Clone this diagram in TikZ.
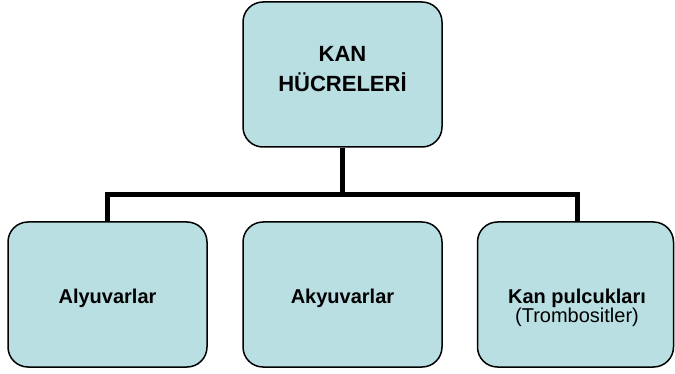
\documentclass[tikz,border=0pt]{standalone}
\usepackage{fontspec}
\setmainfont{Liberation Sans}
\usepackage{xcolor}
\definecolor{kutumavi}{RGB}{185,223,227}

\begin{document}
\begin{tikzpicture}[x=1pt,y=-1pt,
	kutu/.style={draw,fill=kutumavi,line width=1.5pt,rounded corners=20pt,
		minimum width=199pt,minimum height=145pt},
	ustyazi/.style={anchor=base,font=\fontsize{22}{26}\selectfont\bfseries},
	yazi/.style={anchor=base,font=\fontsize{20}{24}\selectfont\bfseries},
	altyazi/.style={anchor=base,font=\fontsize{20}{24}\selectfont},
	bag/.style={line width=5pt}]
	\useasboundingbox (0,0) rectangle (675,374);
	
	% kutular
	\node[kutu] (kan) at (342.5,74.5) {};
	\node[kutu] (alyuvar) at (107.5,294.5) {};
	\node[kutu] (akyuvar) at (342.5,294.5) {};
	\node[kutu,minimum width=196pt] (trombosit) at (575.5,294.5) {};
	
	% yazilar
	\node[ustyazi] (kan1) at (342.5,62) {KAN};
	\node[ustyazi] (kan2) at (342.5,92) {HÜCRELERİ};
	\node[yazi] (alyuvaryazi) at (107.5,303) {Alyuvarlar};
	\node[yazi] (akyuvaryazi) at (342.5,303) {Akyuvarlar};
	\node[yazi] (trombosit1) at (577,303) {Kan pulcukları};
	\node[altyazi] (trombosit2) at (577,323) {(Trombositler)};
	
	% baglantilar
	\coordinate (bus) at (342.5,195);
	\draw[bag] (kan.south) -- (bus);
	\draw[bag] (alyuvar.north) -- (alyuvar.north |- bus) -- ([xshift=1.5pt]trombosit.north |- bus) -- ([xshift=1.5pt]trombosit.north);
\end{tikzpicture}
\end{document}
